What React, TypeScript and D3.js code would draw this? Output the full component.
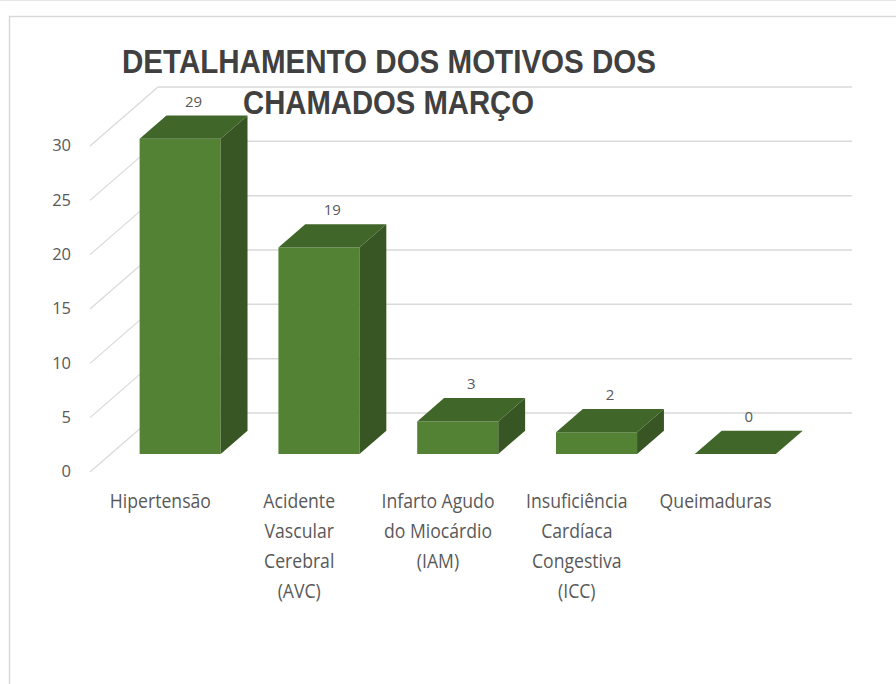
import React from "react";
import * as d3 from "d3";

const categories = [
  "Hipertensão",
  "Acidente\nVascular\nCerebral\n(AVC)",
  "Infarto Agudo\ndo Miocárdio\n(IAM)",
  "Insuficiência\nCardíaca\nCongestiva\n(ICC)",
  "Queimaduras",
];
const values = [29, 19, 3, 2, 0];
const yTicks = [0, 5, 10, 15, 20, 25, 30];
const titleLines = ["DETALHAMENTO DOS MOTIVOS DOS", "CHAMADOS MARÇO"];

const W = 896;
const H = 684;
const DX = 68; // depth offset x (full depth)
const DY = 59; // depth offset y (full depth)
const Z0 = 0.305; // bar front depth
const Z1 = 0.7; // bar back depth

const FRONT = "#548235";
const TOP = "#406629";
const SIDE = "#375623";
const GRID = "#d9d9d9";
const LABEL = "#595959";
const FONT = "'Open Sans', sans-serif";

// title layout (start x and target width of each line)
const titleX = [122, 243];
const titleW = [534, 291];

export default function App() {
  const x = d3
    .scaleBand<string>()
    .domain(categories)
    .range([90, 784])
    .paddingInner(0.416)
    .paddingOuter(0.208);
  const y = d3.scaleLinear().domain([0, 30]).range([472, 146]);

  const P = (px: number, v: number, z: number) => [px + z * DX, y(v) - z * DY];
  const poly = (pts: number[][]) => pts.map((p) => p.join(",")).join(" ");

  return (
    <svg
      width={W}
      height={H}
      style={{ position: "absolute", left: 0, top: 0, background: "#fff" }}
      fontFamily={FONT}
    >
      <rect x={0} y={0} width={W} height={H} fill="#fff" />
      <line x1={0} x2={W} y1={0.5} y2={0.5} stroke="#e6e6e6" />
      <rect x={9.5} y={16.5} width={W + 20} height={H + 20} fill="none" stroke={GRID} strokeWidth={1.5} />

      {/* gridlines: back wall + side floor diagonals */}
      {yTicks.map((t) => {
        const a = P(90, t, 0);
        const b = P(90, t, 1);
        const c = P(784, t, 1);
        return (
          <g key={t}>
            <line x1={a[0]} y1={a[1]} x2={b[0]} y2={b[1]} stroke={GRID} strokeWidth={1.2} />
            <line x1={b[0]} y1={b[1]} x2={c[0]} y2={c[1]} stroke={GRID} strokeWidth={1.5} />
          </g>
        );
      })}

      {/* y tick labels */}
      {yTicks.map((t) => (
        <text key={t} x={71} y={y(t) + 1} textAnchor="end" dominantBaseline="middle" fontSize={16.5} fill={LABEL}>
          {t}
        </text>
      ))}

      {/* bars */}
      {categories.map((c, i) => {
        const v = values[i];
        const x0 = x(c)!;
        const x1 = x0 + x.bandwidth();
        const fbl = P(x0, 0, Z0);
        const fbr = P(x1, 0, Z0);
        const ftl = P(x0, v, Z0);
        const ftr = P(x1, v, Z0);
        const btl = P(x0, v, Z1);
        const btr = P(x1, v, Z1);
        const bbr = P(x1, 0, Z1);
        return (
          <g key={c}>
            {v > 0 && (
              <>
                <polygon points={poly([fbl, fbr, ftr, ftl])} fill={FRONT} />
                <polygon points={poly([fbr, bbr, btr, ftr])} fill={SIDE} />
              </>
            )}
            <polygon points={poly([ftl, ftr, btr, btl])} fill={TOP} />
          </g>
        );
      })}

      {/* data labels */}
      {categories.map((c, i) => {
        const cx = x(c)! + x.bandwidth() / 2 + ((Z0 + Z1) / 2) * DX;
        const ty = y(values[i]) - Z1 * DY - 9;
        return (
          <text key={c} x={cx} y={ty} textAnchor="middle" fontSize={15} fill={LABEL}>
            {values[i]}
          </text>
        );
      })}

      {/* category labels */}
      {categories.map((c) => {
        const cx = x(c)! + x.bandwidth() / 2 + 1;
        return (
          <text
            key={c}
            transform={`translate(${cx},508) scale(0.86,1)`}
            x={0}
            y={0}
            textAnchor="middle"
            fontSize={20.5}
            fill={LABEL}
          >
            {c.split("\n").map((ln, j) => (
              <tspan key={j} x={0} dy={j === 0 ? 0 : 30}>
                {ln}
              </tspan>
            ))}
          </text>
        );
      })}

      {/* title */}
      {titleLines.map((ln, j) => (
        <text
          key={j}
          x={titleX[j]}
          y={73 + j * 41}
          fontSize={33}
          fontWeight="bold"
          fill="#404040"
          textLength={titleW[j]}
          lengthAdjust="spacingAndGlyphs"
          fontFamily="'Liberation Sans', Arial, sans-serif"
        >
          {ln}
        </text>
      ))}
    </svg>
  );
}
